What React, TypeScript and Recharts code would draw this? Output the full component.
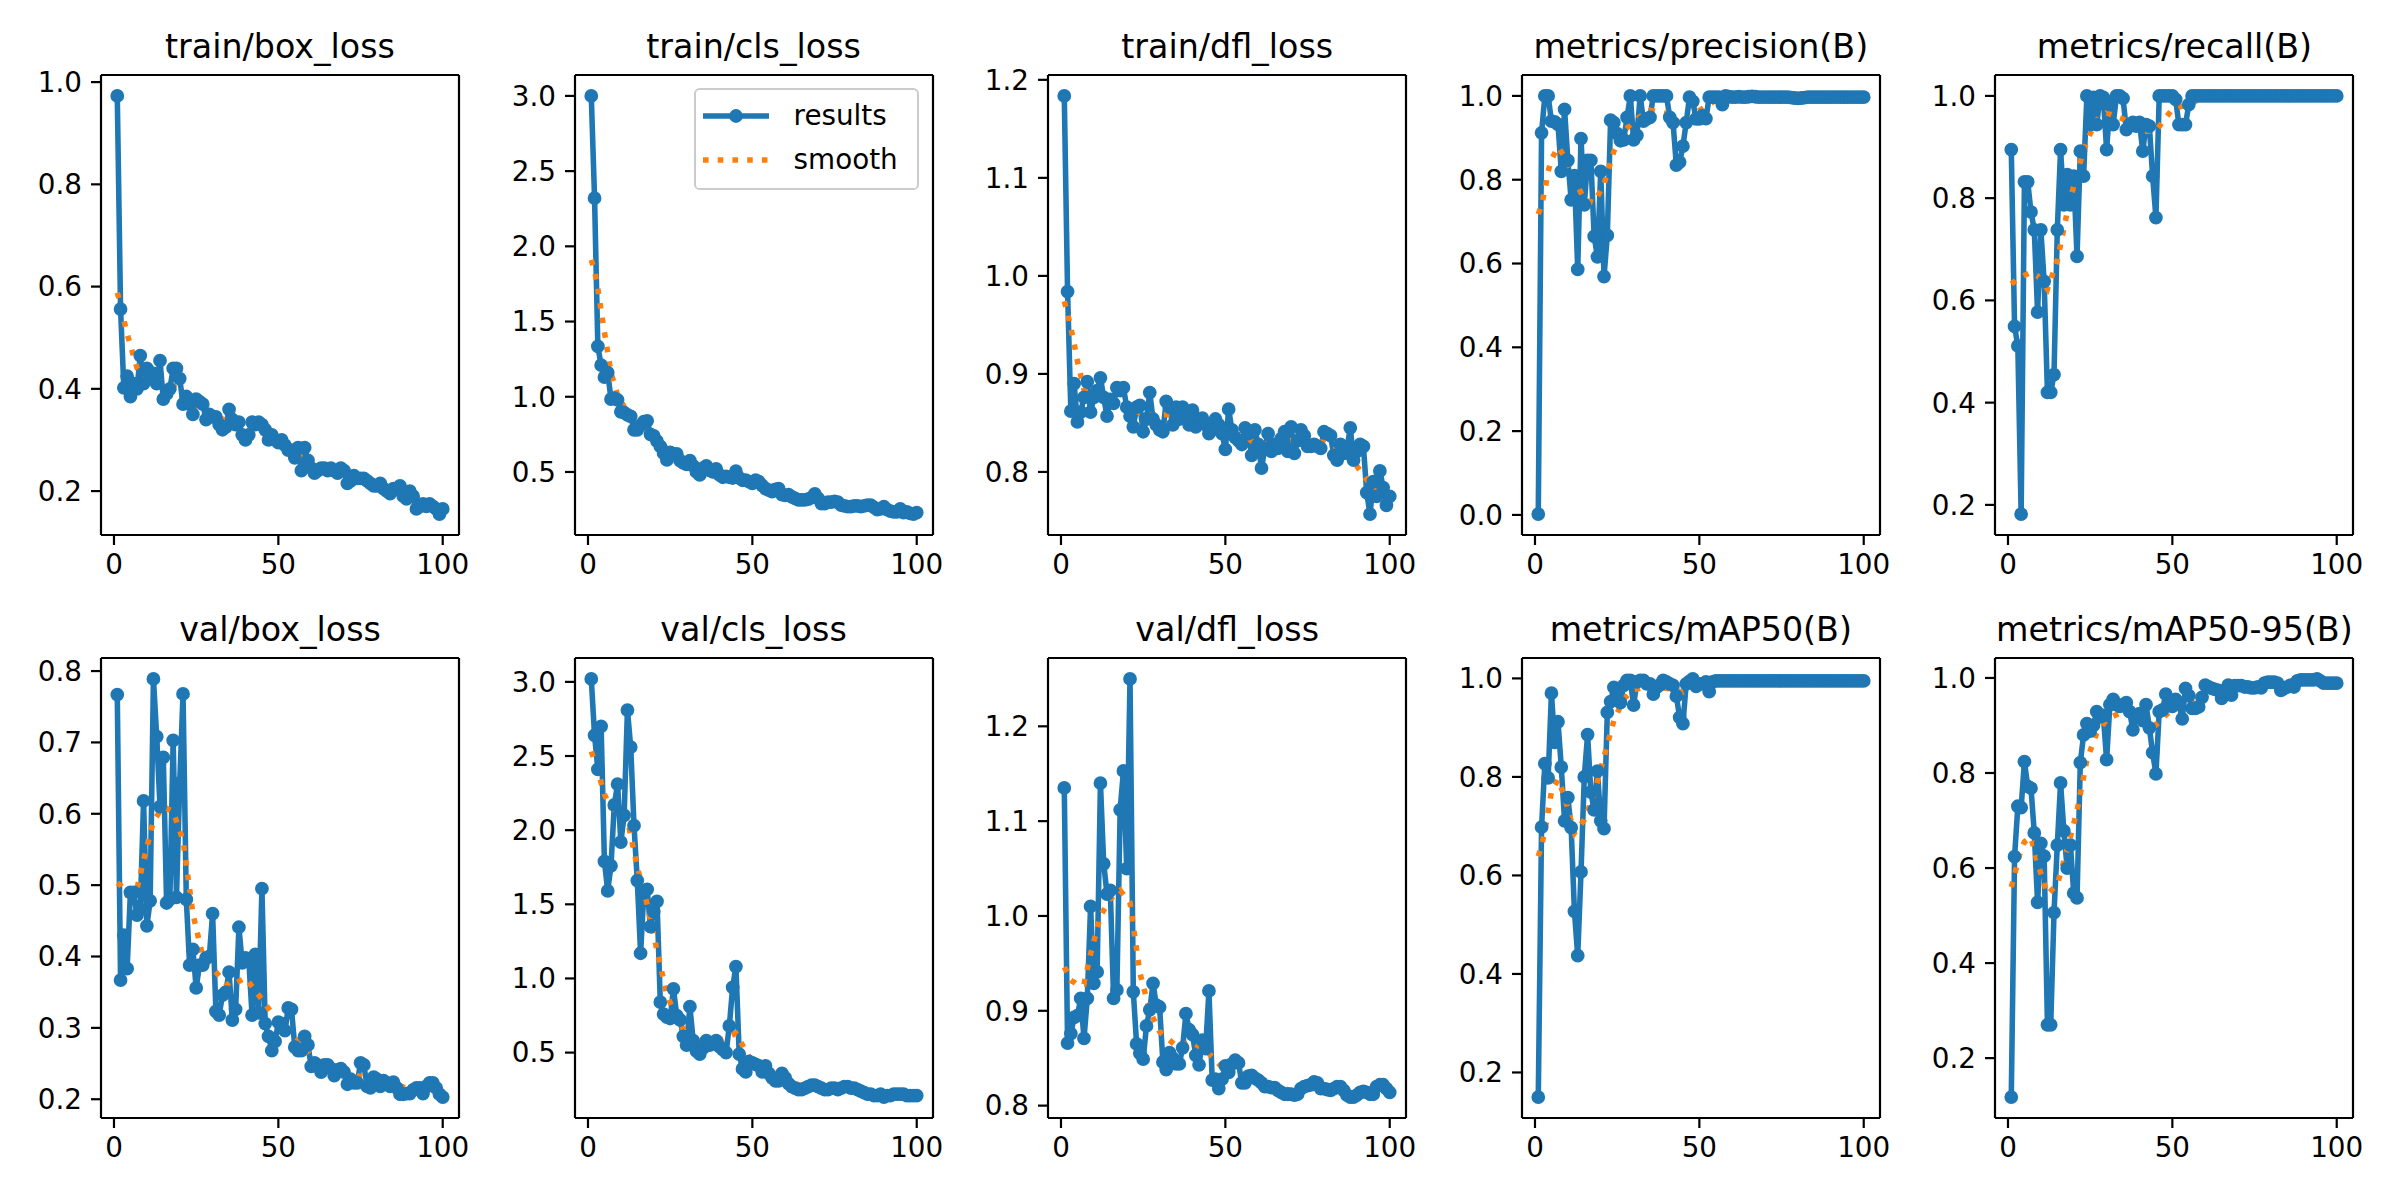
import React from "react";
import { LineChart, Line, XAxis, YAxis, ReferenceLine } from "recharts";

// epochs 1..100, smoothed curve sampled at a subset of epochs
const epochs = Array.from({ length: 100 }, (_, i) => i + 1);
const smoothEpochs = [1, 2, 3, 4, 5, 7, 9, 12, 15, 18, 21, 24, 27, 30, 35, 40, 45, 50, 55, 60, 65, 70, 75, 80, 85, 90, 95, 100];
const xTicks = [0, 50, 100];

const trainBoxLoss = [
  0.973, 0.556, 0.402, 0.425, 0.385, 0.41, 0.40, 0.465, 0.41, 0.44,
  0.42, 0.43, 0.41, 0.455, 0.38, 0.39, 0.40, 0.44, 0.44, 0.42,
  0.37, 0.385, 0.37, 0.35, 0.38, 0.375, 0.37, 0.34, 0.35, 0.345,
  0.345, 0.33, 0.32, 0.325, 0.36, 0.34, 0.33, 0.335, 0.31, 0.30,
  0.31, 0.335, 0.33, 0.335, 0.33, 0.32, 0.30, 0.31, 0.30, 0.295,
  0.30, 0.29, 0.28, 0.28, 0.265, 0.285, 0.24, 0.285, 0.26, 0.245,
  0.235, 0.24, 0.245, 0.245, 0.24, 0.245, 0.24, 0.235, 0.245, 0.24,
  0.215, 0.22, 0.23, 0.225, 0.225, 0.225, 0.22, 0.215, 0.21, 0.21,
  0.215, 0.205, 0.20, 0.195, 0.205, 0.205, 0.21, 0.19, 0.185, 0.20,
  0.19, 0.165, 0.17, 0.175, 0.17, 0.175, 0.17, 0.165, 0.155, 0.165,
];
const trainBoxSmooth = [0.588, 0.566, 0.535, 0.508, 0.485, 0.441, 0.423, 0.416, 0.412, 0.406, 0.388, 0.371, 0.359, 0.349, 0.335, 0.325, 0.314, 0.302, 0.275, 0.251, 0.242, 0.232, 0.221, 0.21, 0.201, 0.185, 0.168, 0.159];

const trainClsLoss = [
  3.0, 2.32, 1.335, 1.21, 1.13, 1.16, 0.985, 0.99, 0.98, 0.90,
  0.895, 0.88, 0.87, 0.78, 0.78, 0.81, 0.835, 0.84, 0.75, 0.74,
  0.705, 0.67, 0.625, 0.58, 0.63, 0.62, 0.62, 0.575, 0.56, 0.55,
  0.575, 0.54, 0.50, 0.48, 0.525, 0.54, 0.51, 0.50, 0.52, 0.48,
  0.465, 0.47, 0.465, 0.46, 0.505, 0.46, 0.445, 0.445, 0.435, 0.425,
  0.445, 0.435, 0.41, 0.39, 0.38, 0.37, 0.385, 0.39, 0.35, 0.345,
  0.35, 0.335, 0.325, 0.315, 0.315, 0.315, 0.32, 0.33, 0.355, 0.325,
  0.29, 0.29, 0.30, 0.30, 0.305, 0.30, 0.28, 0.275, 0.27, 0.27,
  0.275, 0.275, 0.27, 0.275, 0.28, 0.28, 0.265, 0.25, 0.255, 0.27,
  0.25, 0.24, 0.235, 0.235, 0.255, 0.23, 0.235, 0.225, 0.22, 0.23,
];
const trainClsSmooth = [1.91, 1.84, 1.72, 1.57, 1.43, 1.16, 1.01, 0.895, 0.83, 0.78, 0.715, 0.655, 0.605, 0.56, 0.515, 0.485, 0.455, 0.43, 0.39, 0.36, 0.335, 0.32, 0.30, 0.285, 0.277, 0.268, 0.25, 0.235];

const trainDflLoss = [
  1.1836, 0.984, 0.862, 0.89, 0.851, 0.861, 0.876, 0.892, 0.861, 0.876,
  0.883, 0.896, 0.876, 0.857, 0.874, 0.87, 0.886, 0.883, 0.886, 0.866,
  0.857, 0.846, 0.866, 0.868, 0.841, 0.854, 0.881, 0.854, 0.848, 0.843,
  0.841, 0.872, 0.866, 0.848, 0.866, 0.854, 0.866, 0.857, 0.848, 0.863,
  0.846, 0.852, 0.855, 0.848, 0.839, 0.843, 0.854, 0.848, 0.839, 0.823,
  0.864, 0.843, 0.835, 0.832, 0.828, 0.845, 0.839, 0.817, 0.843, 0.828,
  0.804, 0.824, 0.839, 0.821, 0.828, 0.824, 0.834, 0.841, 0.821, 0.846,
  0.819, 0.832, 0.843, 0.837, 0.826, 0.826, 0.828, 0.826, 0.824, 0.841,
  0.839, 0.837, 0.817, 0.812, 0.828, 0.819, 0.824, 0.845, 0.812, 0.821,
  0.828, 0.826, 0.779, 0.757, 0.79, 0.775, 0.801, 0.784, 0.766, 0.775,
];
const trainDflSmooth = [0.974, 0.962, 0.947, 0.931, 0.913, 0.884, 0.877, 0.876, 0.874, 0.87, 0.864, 0.86, 0.858, 0.858, 0.859, 0.854, 0.848, 0.843, 0.837, 0.828, 0.829, 0.832, 0.832, 0.83, 0.822, 0.806, 0.783, 0.777];

const precision = [
  0.002, 0.912, 1.0, 1.0, 0.94, 0.938, 0.932, 0.82, 0.968, 0.846,
  0.752, 0.81, 0.586, 0.898, 0.74, 0.846, 0.846, 0.665, 0.616, 0.82,
  0.569, 0.667, 0.942, 0.936, 0.91, 0.893, 0.895, 0.949, 1.0, 0.895,
  0.906, 1.0, 0.94, 0.945, 0.949, 1.0, 1.0, 1.0, 1.0, 1.0,
  0.949, 0.936, 0.835, 0.842, 0.88, 0.936, 0.997, 0.987, 0.945, 0.945,
  0.953, 0.946, 0.997, 0.997, 0.997, 0.997, 0.979, 1.0, 0.998, 0.997,
  0.997, 0.998, 0.997, 0.997, 0.998, 0.999, 0.998, 0.997, 0.997, 0.997,
  0.997, 0.997, 0.997, 0.997, 0.997, 0.997, 0.997, 0.996, 0.995, 0.994,
  0.995, 0.996, 0.997, 0.997, 0.997, 0.997, 0.997, 0.997, 0.997, 0.997,
  0.997, 0.997, 0.997, 0.997, 0.997, 0.997, 0.997, 0.997, 0.997, 0.997,
];
const precisionSmooth = [0.718, 0.74, 0.775, 0.82, 0.848, 0.878, 0.855, 0.80, 0.753, 0.745, 0.79, 0.868, 0.915, 0.94, 0.966, 0.958, 0.93, 0.965, 0.99, 0.997, 0.998, 0.998, 0.998, 0.998, 0.998, 0.998, 0.998, 0.998];

const recall = [
  0.895, 0.549, 0.511, 0.182, 0.832, 0.832, 0.773, 0.738, 0.577, 0.738,
  0.637, 0.42, 0.42, 0.455, 0.738, 0.895, 0.787, 0.846, 0.787, 0.843,
  0.686, 0.892, 0.843, 1.0, 0.944, 0.997, 0.944, 1.0, 0.997, 0.895,
  0.983, 0.944, 1.0, 1.0, 0.995, 0.934, 0.944, 0.948, 0.941, 0.948,
  0.892, 0.944, 0.941, 0.843, 0.762, 1.0, 1.0, 1.0, 1.0, 1.0,
  0.993, 0.944, 0.944, 0.944, 0.983, 1.0, 1.0, 1.0, 1.0, 1.0,
  1.0, 1.0, 1.0, 1.0, 1.0, 1.0, 1.0, 1.0, 1.0, 1.0,
  1.0, 1.0, 1.0, 1.0, 1.0, 1.0, 1.0, 1.0, 1.0, 1.0,
  1.0, 1.0, 1.0, 1.0, 1.0, 1.0, 1.0, 1.0, 1.0, 1.0,
  1.0, 1.0, 1.0, 1.0, 1.0, 1.0, 1.0, 1.0, 1.0, 1.0,
];
const recallSmooth = [0.632, 0.637, 0.642, 0.646, 0.649, 0.655, 0.648, 0.622, 0.678, 0.772, 0.85, 0.912, 0.953, 0.967, 0.955, 0.93, 0.932, 0.974, 0.984, 0.998, 1.0, 1.0, 1.0, 1.0, 1.0, 1.0, 1.0, 1.0];

const valBoxLoss = [
  0.767, 0.367, 0.43, 0.383, 0.49, 0.49, 0.458, 0.466, 0.618, 0.443,
  0.478, 0.789, 0.708, 0.61, 0.679, 0.475, 0.48, 0.703, 0.483, 0.643,
  0.768, 0.48, 0.388, 0.41, 0.356, 0.388, 0.388, 0.398, 0.40, 0.46,
  0.323, 0.318, 0.346, 0.35, 0.378, 0.311, 0.326, 0.441, 0.391, 0.398,
  0.396, 0.318, 0.403, 0.321, 0.495, 0.306, 0.288, 0.268, 0.281, 0.308,
  0.306, 0.296, 0.328, 0.326, 0.273, 0.268, 0.268, 0.288, 0.276, 0.246,
  0.251, 0.246, 0.238, 0.248, 0.248, 0.243, 0.233, 0.241, 0.243, 0.238,
  0.221, 0.228, 0.223, 0.223, 0.251, 0.248, 0.218, 0.216, 0.231, 0.228,
  0.218, 0.226, 0.223, 0.218, 0.224, 0.216, 0.207, 0.207, 0.208, 0.208,
  0.213, 0.216, 0.216, 0.208, 0.218, 0.223, 0.223, 0.216, 0.207, 0.203,
];
const valBoxSmooth = [0.503, 0.50, 0.493, 0.486, 0.486, 0.495, 0.535, 0.59, 0.61, 0.603, 0.563, 0.46, 0.40, 0.383, 0.358, 0.37, 0.34, 0.308, 0.29, 0.26, 0.246, 0.236, 0.232, 0.228, 0.222, 0.214, 0.214, 0.212];

const valClsLoss = [
  3.02, 2.64, 2.41, 2.70, 1.79, 1.59, 1.76, 2.17, 2.31, 1.92,
  2.10, 2.81, 2.56, 2.03, 1.66, 1.17, 1.58, 1.60, 1.35, 1.45,
  1.52, 0.84, 0.76, 0.74, 0.73, 0.93, 0.75, 0.72, 0.61, 0.55,
  0.81, 0.58, 0.51, 0.49, 0.53, 0.58, 0.55, 0.56, 0.58, 0.54,
  0.52, 0.50, 0.68, 0.94, 1.08, 0.49, 0.39, 0.37, 0.44, 0.43,
  0.42, 0.41, 0.37, 0.41, 0.36, 0.33, 0.31, 0.31, 0.36, 0.33,
  0.29, 0.27, 0.26, 0.25, 0.25, 0.26, 0.27, 0.28, 0.28, 0.27,
  0.26, 0.25, 0.25, 0.26, 0.26, 0.25, 0.26, 0.27, 0.27, 0.26,
  0.26, 0.25, 0.24, 0.23, 0.22, 0.22, 0.21, 0.21, 0.22, 0.20,
  0.21, 0.21, 0.22, 0.22, 0.22, 0.22, 0.21, 0.21, 0.21, 0.21,
];
const valClsSmooth = [2.53, 2.47, 2.40, 2.32, 2.24, 2.15, 2.13, 2.07, 1.75, 1.50, 1.19, 0.89, 0.73, 0.62, 0.56, 0.58, 0.63, 0.43, 0.35, 0.30, 0.28, 0.27, 0.26, 0.255, 0.24, 0.22, 0.215, 0.21];

const valDflLoss = [
  1.135, 0.866, 0.876, 0.893, 0.895, 0.913, 0.871, 0.913, 1.01, 0.929,
  0.941, 1.14, 1.055, 1.023, 1.027, 0.913, 0.922, 1.112, 1.153, 1.05,
  1.25, 0.92, 0.865, 0.855, 0.849, 0.884, 0.901, 0.929, 0.906, 0.904,
  0.846, 0.838, 0.856, 0.85, 0.844, 0.844, 0.861, 0.897, 0.88, 0.875,
  0.853, 0.843, 0.869, 0.86, 0.921, 0.827, 0.828, 0.818, 0.828, 0.842,
  0.835, 0.844, 0.848, 0.845, 0.824, 0.824, 0.831, 0.832, 0.829, 0.827,
  0.824, 0.82, 0.82, 0.819, 0.819, 0.816, 0.814, 0.812, 0.812, 0.812,
  0.811, 0.812, 0.818, 0.82, 0.821, 0.822, 0.825, 0.824, 0.818, 0.818,
  0.817, 0.816, 0.818, 0.82, 0.82, 0.816, 0.811, 0.809, 0.809, 0.811,
  0.814, 0.815, 0.814, 0.812, 0.812, 0.82, 0.822, 0.822, 0.818, 0.814,
];
const valDflSmooth = [0.946, 0.94, 0.932, 0.93, 0.927, 0.928, 0.96, 1.0, 1.018, 1.027, 1.014, 0.94, 0.90, 0.878, 0.863, 0.867, 0.855, 0.837, 0.832, 0.827, 0.82, 0.816, 0.817, 0.819, 0.817, 0.813, 0.814, 0.816];

const mAP50 = [
  0.15, 0.698, 0.827, 0.798, 0.97, 0.87, 0.912, 0.82, 0.711, 0.758,
  0.697, 0.527, 0.437, 0.607, 0.80, 0.886, 0.769, 0.733, 0.812, 0.711,
  0.695, 0.931, 0.953, 0.982, 0.971, 0.951, 0.986, 0.996, 0.996, 0.946,
  0.993, 0.996, 0.996, 0.989, 0.989, 0.968, 0.982, 0.987, 0.996, 0.993,
  0.989, 0.986, 0.964, 0.921, 0.908, 0.989, 0.994, 0.999, 0.984, 0.989,
  0.989, 0.993, 0.973, 0.993, 0.995, 0.995, 0.995, 0.995, 0.995, 0.995,
  0.995, 0.995, 0.995, 0.995, 0.995, 0.995, 0.995, 0.995, 0.995, 0.995,
  0.995, 0.995, 0.995, 0.995, 0.995, 0.995, 0.995, 0.995, 0.995, 0.995,
  0.995, 0.995, 0.995, 0.995, 0.995, 0.995, 0.995, 0.995, 0.995, 0.995,
  0.995, 0.995, 0.995, 0.995, 0.995, 0.995, 0.995, 0.995, 0.995, 0.995,
];
const mAP50Smooth = [0.639, 0.66, 0.69, 0.73, 0.77, 0.795, 0.76, 0.686, 0.713, 0.765, 0.841, 0.915, 0.958, 0.977, 0.984, 0.98, 0.972, 0.986, 0.994, 0.995, 0.995, 0.995, 0.995, 0.995, 0.995, 0.995, 0.995, 0.995];

const mAP5095 = [
  0.118, 0.624, 0.73, 0.727, 0.824, 0.772, 0.768, 0.674, 0.528, 0.652,
  0.625, 0.27, 0.27, 0.506, 0.648, 0.779, 0.678, 0.60, 0.648, 0.547,
  0.537, 0.822, 0.88, 0.904, 0.888, 0.90, 0.929, 0.918, 0.921, 0.828,
  0.944, 0.955, 0.944, 0.94, 0.944, 0.948, 0.929, 0.891, 0.918, 0.925,
  0.91, 0.944, 0.895, 0.843, 0.798, 0.929, 0.933, 0.966, 0.942, 0.94,
  0.955, 0.946, 0.914, 0.978, 0.963, 0.936, 0.936, 0.939, 0.959, 0.985,
  0.981, 0.978, 0.976, 0.974, 0.957, 0.974, 0.985, 0.964, 0.984, 0.984,
  0.984, 0.981, 0.981, 0.979, 0.979, 0.981, 0.979, 0.989, 0.991, 0.991,
  0.991, 0.989, 0.974, 0.978, 0.981, 0.985, 0.981, 0.994, 0.996, 0.996,
  0.996, 0.996, 0.996, 0.998, 0.994, 0.989, 0.989, 0.989, 0.989, 0.989,
];
const mAP5095Smooth = [0.56, 0.585, 0.615, 0.64, 0.655, 0.665, 0.61, 0.545, 0.565, 0.64, 0.72, 0.828, 0.884, 0.912, 0.93, 0.91, 0.901, 0.935, 0.952, 0.963, 0.975, 0.979, 0.982, 0.985, 0.987, 0.992, 0.994, 0.993];

const panels = [
  { title: "train/box_loss", results: trainBoxLoss, smooth: trainBoxSmooth, yTicks: [0.2, 0.4, 0.6, 0.8, 1.0] },
  { title: "train/cls_loss", results: trainClsLoss, smooth: trainClsSmooth, yTicks: [0.5, 1.0, 1.5, 2.0, 2.5, 3.0] },
  { title: "train/dfl_loss", results: trainDflLoss, smooth: trainDflSmooth, yTicks: [0.8, 0.9, 1.0, 1.1, 1.2] },
  { title: "metrics/precision(B)", results: precision, smooth: precisionSmooth, yTicks: [0.0, 0.2, 0.4, 0.6, 0.8, 1.0] },
  { title: "metrics/recall(B)", results: recall, smooth: recallSmooth, yTicks: [0.2, 0.4, 0.6, 0.8, 1.0] },
  { title: "val/box_loss", results: valBoxLoss, smooth: valBoxSmooth, yTicks: [0.2, 0.3, 0.4, 0.5, 0.6, 0.7, 0.8] },
  { title: "val/cls_loss", results: valClsLoss, smooth: valClsSmooth, yTicks: [0.5, 1.0, 1.5, 2.0, 2.5, 3.0] },
  { title: "val/dfl_loss", results: valDflLoss, smooth: valDflSmooth, yTicks: [0.8, 0.9, 1.0, 1.1, 1.2] },
  { title: "metrics/mAP50(B)", results: mAP50, smooth: mAP50Smooth, yTicks: [0.2, 0.4, 0.6, 0.8, 1.0] },
  { title: "metrics/mAP50-95(B)", results: mAP5095, smooth: mAP5095Smooth, yTicks: [0.2, 0.4, 0.6, 0.8, 1.0] },
];

const FONT = '"DejaVu Sans", sans-serif';
const BLUE = "#1f77b4";
const ORANGE = "#ff7f0e";
const LW = 5.56;
const DOTTED = "5.56 9.17";
const DOT = { r: 5.5, fill: BLUE, stroke: BLUE, strokeWidth: 2.78 };

// layout of the 2x5 grid (figure pixels)
const AX_W = 358;
const AX_H = 460;
const AX_LEFT0 = 101;
const AX_STEP = 473.6;
const ROW_TOP = [75, 658];
const Y_AXIS_W = 80;
const X_AXIS_H = 60;
const PAD = 10;
const X_DOMAIN = [-3.95, 104.95];

const tickStyle = { fill: "#000", fontSize: 27.8, fontFamily: FONT };
const tickLineStyle = { stroke: "#000", strokeWidth: 2.2 };

function buildRows(results: number[], smooth: number[]) {
  return epochs.map((epoch, i) => {
    const k = smoothEpochs.indexOf(epoch);
    return { epoch, results: results[i], smooth: k >= 0 ? smooth[k] : null };
  });
}

function ResultsLegend({ right, top }: { right: number; top: number }) {
  const w = 225;
  return (
    <div
      style={{
        position: "absolute",
        left: right - w,
        top,
        width: w,
        height: 102,
        boxSizing: "border-box",
        border: "2.2px solid #cccccc",
        borderRadius: 5.6,
        background: "rgba(255,255,255,0.8)",
        fontFamily: FONT,
        fontSize: 27.8,
        color: "#000",
      }}
    >
      <svg width={90} height={100} style={{ position: "absolute", left: -2, top: -2 }}>
        <line x1={9} x2={75} y1={28} y2={28} stroke={BLUE} strokeWidth={LW} />
        <circle cx={42} cy={28} r={5.5} fill={BLUE} stroke={BLUE} strokeWidth={2.78} />
        <line x1={9} x2={75} y1={72} y2={72} stroke={ORANGE} strokeWidth={LW} strokeDasharray={DOTTED} />
      </svg>
      <div style={{ position: "absolute", left: 98, top: 10, lineHeight: "32px" }}>results</div>
      <div style={{ position: "absolute", left: 98, top: 54, lineHeight: "32px" }}>smooth</div>
    </div>
  );
}

function Panel({ panel, index }: { panel: (typeof panels)[number]; index: number }) {
  const col = index % 5;
  const row = Math.floor(index / 5);
  const left = AX_LEFT0 + col * AX_STEP;
  const top = ROW_TOP[row];
  const lo = Math.min(...panel.results);
  const hi = Math.max(...panel.results);
  const m = (hi - lo) * 0.05;
  const yDomain = [lo - m, hi + m];
  const rows = buildRows(panel.results, panel.smooth);

  return (
    <>
      <div
        style={{
          position: "absolute",
          left: left - 100,
          top: top - 44.9,
          width: AX_W + 200,
          textAlign: "center",
          fontFamily: FONT,
          fontSize: 33.3,
          lineHeight: "33.3px",
          color: "#000",
          whiteSpace: "nowrap",
        }}
      >
        {panel.title}
      </div>
      <div style={{ position: "absolute", left: left - Y_AXIS_W, top: top - PAD }}>
        <LineChart
          width={Y_AXIS_W + AX_W + PAD}
          height={PAD + AX_H + X_AXIS_H}
          data={rows}
          margin={{ top: PAD, right: PAD, bottom: 0, left: 0 }}
        >
          <XAxis
            dataKey="epoch"
            type="number"
            domain={X_DOMAIN}
            allowDataOverflow
            ticks={xTicks}
            interval={0}
            height={X_AXIS_H}
            tickSize={10}
            tickMargin={9}
            tick={tickStyle}
            tickLine={tickLineStyle}
            axisLine={tickLineStyle}
          />
          <YAxis
            type="number"
            domain={yDomain}
            allowDataOverflow
            ticks={panel.yTicks}
            interval={0}
            width={Y_AXIS_W}
            tickSize={10}
            tickMargin={9}
            tick={tickStyle}
            tickLine={tickLineStyle}
            axisLine={tickLineStyle}
            tickFormatter={(v: number) => v.toFixed(1)}
          />
          <ReferenceLine y={yDomain[1]} stroke="#000" strokeWidth={2.2} />
          <ReferenceLine x={X_DOMAIN[1]} stroke="#000" strokeWidth={2.2} />
          <Line
            type="linear"
            dataKey="results"
            stroke={BLUE}
            strokeWidth={LW}
            strokeLinejoin="round"
            dot={DOT}
            activeDot={false}
            isAnimationActive={false}
          />
          <Line
            type="linear"
            dataKey="smooth"
            stroke={ORANGE}
            strokeWidth={LW}
            strokeDasharray={DOTTED}
            connectNulls
            dot={false}
            activeDot={false}
            isAnimationActive={false}
          />
        </LineChart>
      </div>
      {index === 1 && <ResultsLegend right={left + AX_W - 14} top={top + 13} />}
    </>
  );
}

export default function App() {
  return (
    <div
      style={{
        position: "absolute",
        left: 0,
        top: 0,
        width: 2400,
        height: 1200,
        background: "#fff",
        fontFamily: FONT,
      }}
    >
      {panels.map((p, i) => (
        <Panel key={p.title} panel={p} index={i} />
      ))}
    </div>
  );
}
